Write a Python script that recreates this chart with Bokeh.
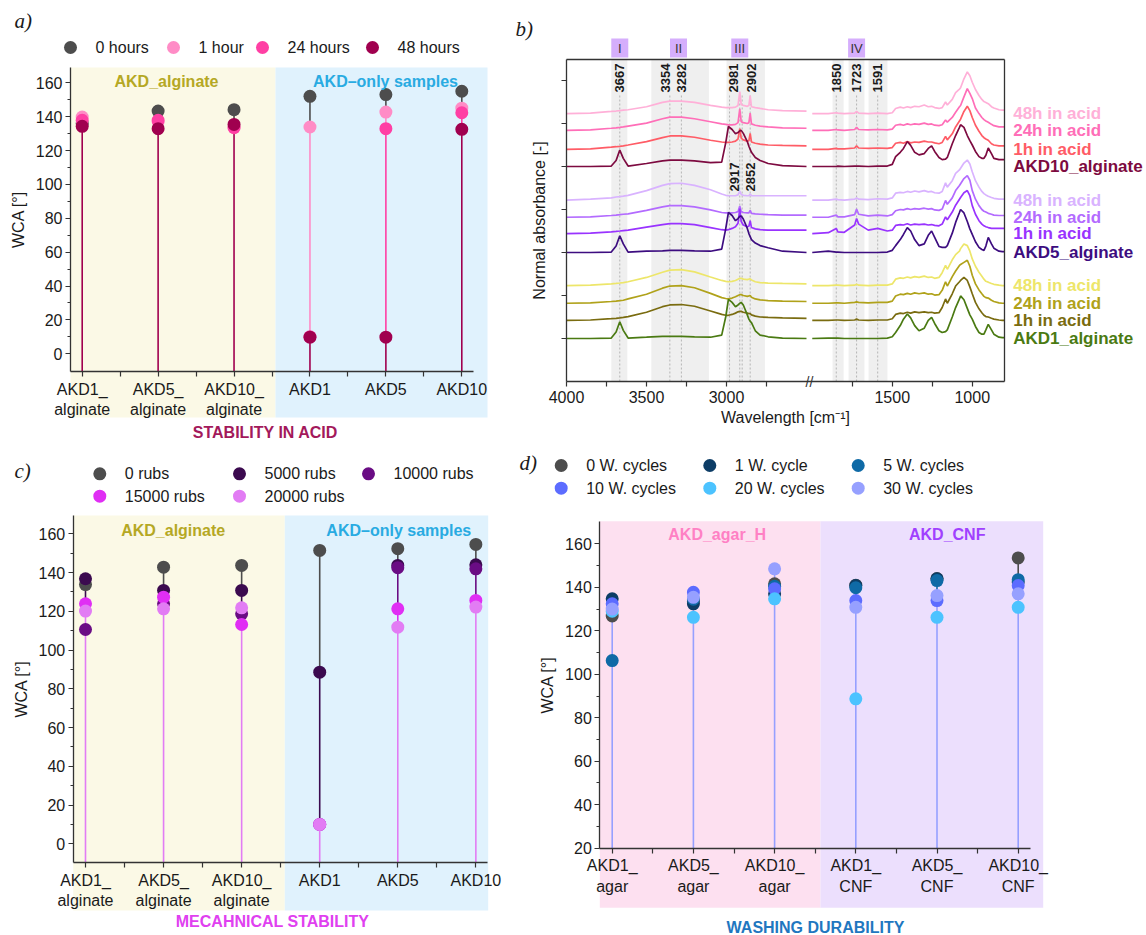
import numpy as np
from bokeh.plotting import figure
from bokeh.models import Range1d, FixedTicker, LinearAxis
from bokeh.layouts import row, column
from bokeh.embed import file_html
from bokeh.resources import INLINE
from bokeh.core.properties import value

SANS = "Liberation Sans"
SERIF = "Liberation Serif"
INK = "#1a1a1a"
AX = "#333333"

# ---------------- panel a: stability in acid ----------------
cats_alg = ["AKD1_\nalginate", "AKD5_\nalginate", "AKD10_\nalginate", "AKD1", "AKD5", "AKD10"]
acid_names = ["0 hours", "1 hour", "24 hours", "48 hours"]
acid_0h = [136.0, 143.3, 144.1, 152.0, 153.0, 155.0]
acid_1h = [139.8, 137.0, 134.0, 133.9, 142.7, 145.0]
acid_24h = [137.8, 137.8, 133.5, 10.0, 132.9, 142.3]
acid_48h = [134.3, 132.9, 135.4, 9.8, 9.8, 132.5]
acid_colors = ["#4d4d4d", "#ff8cc6", "#ff3fa4", "#a0004f"]

# ---------------- panel c: mechanical stability ----------------
rub_names = ["0 rubs", "5000 rubs", "10000 rubs", "15000 rubs", "20000 rubs"]
rubs_0 = [133.8, 142.8, 143.7, 151.4, 152.3, 154.5]
rubs_5000 = [136.8, 130.8, 130.8, 88.6, 143.7, 144.0]
rubs_10000 = [110.6, 123.9, 118.7, 10.0, 142.5, 141.9]
rubs_15000 = [123.9, 127.3, 113.2, 10.0, 121.3, 125.6]
rubs_20000 = [120.1, 121.3, 121.8, 10.0, 111.8, 122.2]
rub_colors = ["#4d4d4d", "#3b0a4f", "#6a0c84", "#e02ef4", "#e27cf4"]

# ---------------- panel d: washing durability ----------------
cats_wash = ["AKD1_\nagar", "AKD5_\nagar", "AKD10_\nagar", "AKD1_\nCNF", "AKD5_\nCNF", "AKD10_\nCNF"]
wash_names = ["0 W. cycles", "1 W. cycle", "5 W. cycles", "10 W. cycles", "20 W. cycles", "30 W. cycles"]
wash_0 = [126.8, 133.5, 141.6, 141.0, 144.0, 153.5]
wash_1 = [134.7, 132.4, 137.0, 140.8, 143.9, 142.5]
wash_5 = [106.3, 134.5, 140.5, 139.8, 143.1, 143.5]
wash_10 = [132.4, 137.7, 139.3, 133.9, 133.9, 140.8]
wash_20 = [129.0, 126.2, 134.7, 88.7, 126.2, 130.8]
wash_30 = [130.0, 135.4, 148.5, 130.8, 136.2, 137.0]
wash_colors = ["#4d4d4d", "#0d3d66", "#0f6aa6", "#5c6cff", "#4cc3ff", "#96a0ff"]

# ---------------- panel b: FTIR spectra ----------------
wn_left = [4000, 3850, 3720, 3690, 3667, 3645, 3615, 3500, 3400, 3354, 3282, 3200, 3100, 3030, 3005,
           2988, 2965, 2944, 2928, 2917, 2908, 2895, 2870, 2860, 2852, 2844, 2820, 2790, 2740, 2650, 2500]
wn_right = [2000, 1900, 1850, 1840, 1800, 1735, 1723, 1710, 1650, 1591, 1531, 1500, 1479, 1450, 1430,
            1406, 1385, 1360, 1333, 1300, 1275, 1254, 1235, 1208, 1188, 1167, 1156, 1125, 1104, 1080,
            1073, 1052, 1031, 1015, 1000, 980, 958, 940, 927, 915, 900, 880, 865, 833, 812, 800]

spec_names = ["48h in acid", "24h in acid", "1h in acid", "AKD10_alginate",
              "48h in acid", "24h in acid", "1h in acid", "AKD5_alginate",
              "48h in acid", "24h in acid", "1h in acid", "AKD1_alginate"]
spec_colors = ["#ffb0d8", "#ff6eb8", "#ff5c66", "#7d0a40",
               "#d9b3ff", "#b36bff", "#9933ff", "#3d0d80",
               "#ede66a", "#b0a21a", "#7a6c10", "#4a7a12"]
spec_offsets = [6.23, 5.84, 5.40, 5.00, 4.22, 3.82, 3.44, 3.00, 2.23, 1.82, 1.42, 1.00]

spec_left = [
    [0, 0.01, 0.05, 0.06, 0.07, 0.08, 0.09, 0.16, 0.26, 0.29, 0.29, 0.26, 0.19, 0.15, 0.14, 0.14, 0.14, 0.15, 0.19, 0.51, 0.21, 0.19, 0.17, 0.19, 0.42, 0.16, 0.14, 0.12, 0.09, 0.07, 0.06],
    [0, 0.01, 0.05, 0.06, 0.07, 0.08, 0.10, 0.17, 0.27, 0.31, 0.31, 0.27, 0.20, 0.15, 0.14, 0.13, 0.13, 0.14, 0.18, 0.50, 0.20, 0.18, 0.16, 0.18, 0.40, 0.15, 0.12, 0.10, 0.08, 0.06, 0.05],
    [0, 0.01, 0.05, 0.06, 0.07, 0.08, 0.10, 0.18, 0.27, 0.31, 0.31, 0.28, 0.21, 0.17, 0.16, 0.16, 0.17, 0.19, 0.24, 0.48, 0.26, 0.22, 0.19, 0.20, 0.37, 0.17, 0.14, 0.12, 0.10, 0.09, 0.08],
    [0, 0, 0.01, 0.14, 0.38, 0.19, 0.01, 0.07, 0.13, 0.15, 0.15, 0.13, 0.09, 0.10, 0.55, 0.93, 0.86, 0.76, 0.79, 0.83, 0.84, 0.77, 0.58, 0.47, 0.40, 0.33, 0.21, 0.14, 0.07, 0.02, 0],
    [0, 0.02, 0.05, 0.07, 0.08, 0.09, 0.11, 0.22, 0.34, 0.38, 0.39, 0.34, 0.24, 0.14, 0.11, 0.10, 0.10, 0.10, 0.12, 0.21, 0.13, 0.11, 0.10, 0.10, 0.14, 0.10, 0.10, 0.10, 0.10, 0.10, 0.10],
    [0, 0.01, 0.04, 0.05, 0.06, 0.07, 0.08, 0.16, 0.24, 0.27, 0.27, 0.24, 0.17, 0.11, 0.10, 0.10, 0.10, 0.11, 0.13, 0.26, 0.13, 0.11, 0.10, 0.10, 0.16, 0.09, 0.08, 0.07, 0.06, 0.05, 0.05],
    [0, 0.01, 0.04, 0.05, 0.06, 0.07, 0.08, 0.15, 0.21, 0.23, 0.23, 0.21, 0.14, 0.09, 0.08, 0.09, 0.12, 0.16, 0.24, 0.58, 0.28, 0.20, 0.16, 0.17, 0.30, 0.14, 0.11, 0.09, 0.08, 0.08, 0.08],
    [0, 0, 0.01, 0.15, 0.39, 0.20, 0.01, 0.03, 0.04, 0.05, 0.05, 0.04, 0.03, 0.08, 0.55, 0.93, 0.86, 0.74, 0.79, 0.84, 0.85, 0.78, 0.56, 0.44, 0.37, 0.30, 0.22, 0.16, 0.11, 0.03, 0],
    [0, 0.01, 0.04, 0.05, 0.06, 0.07, 0.09, 0.19, 0.31, 0.36, 0.37, 0.32, 0.20, 0.12, 0.10, 0.09, 0.10, 0.12, 0.15, 0.17, 0.17, 0.15, 0.14, 0.15, 0.16, 0.13, 0.09, 0.07, 0.06, 0.05, 0.04],
    [0, 0.01, 0.04, 0.05, 0.06, 0.07, 0.10, 0.21, 0.35, 0.40, 0.41, 0.36, 0.23, 0.13, 0.11, 0.10, 0.12, 0.15, 0.18, 0.20, 0.20, 0.18, 0.16, 0.17, 0.18, 0.14, 0.10, 0.08, 0.06, 0.05, 0.04],
    [0, 0.01, 0.04, 0.05, 0.06, 0.07, 0.09, 0.19, 0.32, 0.36, 0.37, 0.33, 0.22, 0.14, 0.12, 0.12, 0.14, 0.17, 0.20, 0.21, 0.21, 0.19, 0.17, 0.16, 0.16, 0.13, 0.10, 0.08, 0.07, 0.06, 0.05],
    [0, 0, 0.01, 0.15, 0.39, 0.19, 0.01, 0.03, 0.05, 0.05, 0.05, 0.04, 0.03, 0.08, 0.50, 0.91, 0.84, 0.74, 0.78, 0.82, 0.84, 0.78, 0.55, 0.45, 0.40, 0.37, 0.18, 0.08, 0.04, 0.01, 0],
]
spec_right = [
    [0, 0, 0.02, 0.01, 0, 0.01, 0.05, 0.01, 0, 0.01, 0, 0.02, 0.12, 0.15, 0.13, 0.16, 0.14, 0.17, 0.16, 0.20, 0.16, 0.17, 0.14, 0.12, 0.14, 0.27, 0.20, 0.33, 0.49, 0.57, 0.60, 0.81, 0.97, 0.88, 0.73, 0.56, 0.42, 0.33, 0.28, 0.26, 0.23, 0.16, 0.13, 0.09, 0.08, 0.08],
    [0, 0, 0.02, 0.01, 0, 0.02, 0.07, 0.02, 0.01, 0.02, 0.01, 0.03, 0.12, 0.14, 0.12, 0.15, 0.13, 0.15, 0.14, 0.17, 0.14, 0.15, 0.12, 0.11, 0.13, 0.24, 0.19, 0.30, 0.42, 0.55, 0.58, 0.78, 0.97, 0.86, 0.74, 0.52, 0.39, 0.30, 0.25, 0.22, 0.19, 0.14, 0.11, 0.08, 0.08, 0.08],
    [0, 0, 0.02, 0.01, 0.01, 0.03, 0.08, 0.03, 0.02, 0.03, 0.02, 0.04, 0.14, 0.16, 0.14, 0.18, 0.15, 0.17, 0.16, 0.19, 0.17, 0.17, 0.15, 0.13, 0.16, 0.30, 0.22, 0.36, 0.52, 0.66, 0.70, 0.88, 1.00, 0.90, 0.74, 0.56, 0.42, 0.32, 0.27, 0.24, 0.21, 0.13, 0.10, 0.08, 0.08, 0.08],
    [0, 0, 0, 0.01, 0, 0.01, 0.01, 0.01, 0, 0.01, 0.01, 0.05, 0.23, 0.33, 0.42, 0.58, 0.49, 0.33, 0.27, 0.30, 0.42, 0.48, 0.35, 0.21, 0.16, 0.17, 0.21, 0.53, 0.72, 0.91, 0.97, 0.91, 0.72, 0.60, 0.50, 0.35, 0.23, 0.19, 0.19, 0.26, 0.43, 0.30, 0.19, 0.16, 0.16, 0.16],
    [0, 0, 0.02, 0.01, 0, 0.02, 0.05, 0.02, 0.01, 0.03, 0.02, 0.05, 0.16, 0.18, 0.17, 0.20, 0.18, 0.21, 0.19, 0.22, 0.19, 0.20, 0.17, 0.16, 0.20, 0.40, 0.30, 0.45, 0.62, 0.70, 0.74, 0.86, 0.93, 0.84, 0.66, 0.45, 0.30, 0.20, 0.15, 0.12, 0.09, 0.06, 0.04, 0.02, 0.02, 0.02],
    [0, 0, 0.05, 0.01, 0.01, 0.06, 0.19, 0.07, 0.03, 0.05, 0.03, 0.06, 0.15, 0.18, 0.17, 0.20, 0.18, 0.20, 0.19, 0.21, 0.19, 0.20, 0.17, 0.16, 0.19, 0.39, 0.30, 0.45, 0.62, 0.74, 0.78, 0.90, 0.97, 0.86, 0.62, 0.42, 0.27, 0.18, 0.14, 0.12, 0.09, 0.07, 0.05, 0.04, 0.04, 0.04],
    [0, 0.02, 0.12, 0.04, 0.03, 0.20, 0.35, 0.22, 0.08, 0.12, 0.06, 0.08, 0.19, 0.21, 0.20, 0.23, 0.20, 0.22, 0.21, 0.22, 0.20, 0.21, 0.19, 0.18, 0.22, 0.39, 0.32, 0.50, 0.66, 0.80, 0.84, 0.95, 1.00, 0.88, 0.65, 0.45, 0.30, 0.22, 0.18, 0.16, 0.14, 0.12, 0.12, 0.12, 0.12, 0.12],
    [0, 0.03, 0.01, 0.01, 0, 0, 0, 0, 0, 0, 0.01, 0.05, 0.16, 0.30, 0.42, 0.58, 0.50, 0.30, 0.16, 0.20, 0.40, 0.50, 0.35, 0.14, 0.12, 0.12, 0.16, 0.45, 0.70, 0.93, 1.00, 0.92, 0.72, 0.55, 0.42, 0.25, 0.12, 0.07, 0.05, 0.15, 0.35, 0.20, 0.10, 0.03, 0.02, 0.02],
    [0, 0, 0.01, 0.01, 0, 0.01, 0.03, 0.01, 0, 0.01, 0.01, 0.04, 0.15, 0.18, 0.17, 0.20, 0.18, 0.21, 0.19, 0.22, 0.19, 0.20, 0.17, 0.19, 0.30, 0.47, 0.38, 0.60, 0.72, 0.80, 0.86, 0.97, 0.93, 0.80, 0.62, 0.45, 0.31, 0.22, 0.15, 0.10, 0.08, 0.05, 0.03, 0.01, 0, 0],
    [0, 0, 0.01, 0.01, 0, 0.02, 0.03, 0.02, 0.01, 0.02, 0.02, 0.05, 0.17, 0.21, 0.20, 0.23, 0.21, 0.24, 0.22, 0.24, 0.21, 0.22, 0.19, 0.20, 0.30, 0.50, 0.40, 0.62, 0.75, 0.88, 0.90, 0.95, 1.00, 0.86, 0.65, 0.45, 0.31, 0.22, 0.16, 0.13, 0.12, 0.07, 0.04, 0.01, 0, 0],
    [0, 0, 0.01, 0.01, 0, 0.01, 0.03, 0.01, 0, 0.01, 0.01, 0.04, 0.14, 0.17, 0.16, 0.19, 0.17, 0.20, 0.18, 0.20, 0.18, 0.19, 0.17, 0.18, 0.30, 0.50, 0.40, 0.62, 0.80, 0.90, 0.93, 1.00, 0.93, 0.78, 0.62, 0.42, 0.27, 0.18, 0.12, 0.09, 0.08, 0.05, 0.03, 0.01, 0, 0],
    [0, 0.01, 0.01, 0.01, 0, 0, 0, 0, 0, 0, 0.01, 0.04, 0.14, 0.30, 0.45, 0.57, 0.48, 0.30, 0.18, 0.24, 0.42, 0.49, 0.35, 0.18, 0.14, 0.16, 0.20, 0.50, 0.72, 0.92, 0.99, 0.90, 0.70, 0.55, 0.45, 0.28, 0.14, 0.10, 0.10, 0.20, 0.33, 0.20, 0.10, 0.03, 0.02, 0.02],
]
peak_top = [3667, 3354, 3282, 2981, 2902, 1850, 1723, 1591]
peak_low = [2917, 2852]
regions = [(3720, 3620), (3470, 3110), (3000, 2760), (1873, 1804), (1773, 1674), (1648, 1530)]
region_tags = ["I", "II", "III", "IV"]
region_tag_wn = [3667, 3300, 2917, 1723]


# ---------------- helpers ----------------
def lin(v1, p1, v2, p2):
    k = (v2 - v1) / (p2 - p1)
    return lambda px: v1 + (px - p1) * k


def base_fig(W, H, xr, yr):
    p = figure(width=W, height=H, x_range=Range1d(*xr), y_range=Range1d(*yr),
               output_backend="svg", toolbar_location=None, min_border=0)
    p.min_border_left = p.min_border_right = p.min_border_top = p.min_border_bottom = 0
    p.outline_line_color = None
    p.xgrid.visible = False
    p.ygrid.visible = False
    p.background_fill_color = "white"
    p.border_fill_color = "white"
    return p


def style_axis(ax, minor_out=3):
    ax.axis_line_color = AX
    ax.axis_line_width = 1.3
    ax.major_tick_line_color = AX
    ax.minor_tick_line_color = AX
    ax.major_tick_line_width = 1.2
    ax.minor_tick_line_width = 1.2
    ax.major_tick_in = 0
    ax.minor_tick_in = 0
    ax.major_tick_out = 5
    ax.minor_tick_out = minor_out
    ax.major_label_text_font = SANS
    ax.major_label_text_font_size = "16px"
    ax.major_label_text_color = INK
    ax.axis_label_text_font = SANS
    ax.axis_label_text_font_size = "16px"
    ax.axis_label_text_font_style = "normal"
    ax.axis_label_text_color = INK


def txt(p, xs, ys, ss, color=INK, size="16px", style="normal", font=SANS,
        align="center", baseline="middle", angle=0, x_offset=0):
    p.text(x=xs, y=ys, text=ss, text_color=color, text_font=value(font),
           text_font_size=size, text_font_style=style, text_align=align,
           text_baseline=baseline, angle=angle, x_offset=x_offset)


def manual_legend(p, fx, fy, names, colors, slots):
    xs = [fx(cx) for cx, cy in slots]
    ys = [fy(cy) for cx, cy in slots]
    p.scatter(xs, ys, size=13, color=colors, line_color=None)
    txt(p, [fx(cx + 25) for cx, cy in slots], ys, names, align="left")


def lollipop(W, H, fx, fy, cats, series, colors, names, L):
    p = base_fig(W, H, (fx(0), fx(W)), (fy(H), fy(0)))
    xs = list(range(1, len(cats) + 1))
    x_axis_val = fy(L["xaxis_px"])
    y_top = fy(L["ytop_px"])
    y_axis_x = fx(L["yaxis_px"])
    split = fx(L["split_px"])
    p.quad(left=[y_axis_x, split], right=[split, fx(L["bgright_px"])],
           bottom=fy(L["bgbottom_px"]), top=y_top,
           fill_color=L["bg_colors"], line_color=None)
    # stems: each series is drawn over the earlier ones, so only the part of a
    # stem above every later stem stays visible
    for k, (vals, col) in enumerate(zip(series, colors)):
        sx, s0, s1 = [], [], []
        for j, v in enumerate(vals):
            low = max([x_axis_val] + [series[m][j] for m in range(k + 1, len(series))])
            if v > low:
                sx.append(xs[j]); s0.append(low); s1.append(v)
        p.segment(x0=sx, y0=s0, x1=sx, y1=s1, line_color=col, line_width=1.6)
    for vals, col in zip(series, colors):
        p.scatter(xs, vals, size=13, color=col, line_color=None)
    # region titles
    txt(p, [fx(v) for v in L["region_x_px"]], [fy(L["region_y_px"])] * 2,
        L["region_names"], color=L["region_colors"], style="bold")
    # panel letter
    txt(p, [fx(L["letter_px"][0])], [fy(L["letter_px"][1])], [L["letter"]],
        size="21px", style="italic", font=SERIF, align="left")
    # bottom title
    txt(p, [fx(L["title_px"][0])], [fy(L["title_px"][1])], [L["title"]],
        color=L["title_color"], style="bold")
    manual_legend(p, fx, fy, names, colors, L["legend_slots"])

    xa = p.xaxis[0]
    style_axis(xa, minor_out=5)
    xa.fixed_location = x_axis_val
    xa.bounds = (y_axis_x, fx(L["axisright_px"]))
    xa.ticker = FixedTicker(ticks=xs, minor_ticks=[i + 0.5 for i in xs[:-1]])
    xa.major_label_overrides = {i: c for i, c in zip(xs, cats)}
    xa.major_label_standoff = 4

    ya = p.yaxis[0]
    style_axis(ya)
    ya.fixed_location = y_axis_x
    ya.bounds = (x_axis_val, y_top)
    ya.ticker = FixedTicker(ticks=L["yticks"], minor_ticks=L["yminor"])
    ya.major_label_standoff = 3
    ya.axis_label = "WCA [°]"
    ya.axis_label_standoff = 6
    return p


W_L, W_R, H_TOP, H_BOT = 510, 636, 445, 490

# ---------------- panel a (figure origin at 0, 0) ----------------
fxa = lin(1, 81.7, 6, 81.7 + 5 * 75.92)
fya = lin(0, 353.3, 160, 353.3 - 160 * 1.694)
pa = lollipop(W_L, H_TOP, fxa, fya, cats_alg, [acid_0h, acid_1h, acid_24h, acid_48h],
              acid_colors, acid_names, dict(
                  xaxis_px=371, ytop_px=67, yaxis_px=70, split_px=275, bgright_px=487,
                  bgbottom_px=417, axisright_px=473, bg_colors=["#fbf9e6", "#e0f2fd"],
                  region_x_px=[166, 385], region_y_px=80.7,
                  region_names=["AKD_alginate", "AKD\u2013only samples"],
                  region_colors=["#b5a824", "#29abe2"],
                  letter="a)", letter_px=(14, 20),
                  title="STABILITY IN ACID", title_px=(265, 432), title_color="#a3195b",
                  legend_slots=[(70, 47), (173, 47), (262, 47), (372, 47)],
                  yticks=list(range(0, 161, 20)), yminor=list(range(10, 160, 20))))

# ---------------- panel c (figure origin at 0, 445) ----------------
fxc = lin(1, 85, 6, 85 + 5 * 78.07)
fyc = lin(0, 398.3, 160, 398.3 - 310)
pc = lollipop(W_L, H_BOT, fxc, fyc, cats_alg, [rubs_0, rubs_5000, rubs_10000, rubs_15000, rubs_20000],
              rub_colors, rub_names, dict(
                  xaxis_px=417.3, ytop_px=70, yaxis_px=72.7, split_px=284.3, bgright_px=487.7,
                  bgbottom_px=465, axisright_px=486.7, bg_colors=["#fbf9e6", "#e0f2fd"],
                  region_x_px=[172.7, 398.3], region_y_px=84.5,
                  region_names=["AKD_alginate", "AKD\u2013only samples"],
                  region_colors=["#b5a824", "#29abe2"],
                  letter="c)", letter_px=(14, 25),
                  title="MECAHNICAL STABILITY", title_px=(272, 476), title_color="#e040f0",
                  legend_slots=[(99.3, 28.3), (239, 28.3), (368, 28.3), (99.3, 50.7), (239, 50.7)],
                  yticks=list(range(0, 161, 20)), yminor=list(range(10, 160, 20))))

# ---------------- panel d (figure origin at 510, 445) ----------------
fxd = lin(1, 101.7, 6, 101.7 + 5 * 81.2)
fyd = lin(20, 402.7, 160, 402.7 - 140 * 2.174)
pd_ = lollipop(W_R, H_BOT, fxd, fyd, cats_wash, [wash_0, wash_1, wash_5, wash_10, wash_20, wash_30],
               wash_colors, wash_names, dict(
                   xaxis_px=402.7, ytop_px=75.7, yaxis_px=89.3, split_px=310, bgright_px=532.7,
                   bgbottom_px=462.3, axisright_px=520, bg_colors=["#fde0f0", "#ecdffd"],
                   region_x_px=[206.7, 436.7], region_y_px=89,
                   region_names=["AKD_agar_H", "AKD_CNF"],
                   region_colors=["#ff80c4", "#a040ff"],
                   letter="d)", letter_px=(9, 17),
                   title="WASHING DURABILITY", title_px=(305, 482), title_color="#1f77c0",
                   legend_slots=[(50.7, 20), (199.3, 20), (347.7, 20),
                                 (50.7, 42.7), (199.3, 42.7), (347.7, 42.7)],
                   yticks=list(range(20, 161, 20)), yminor=list(range(30, 160, 20))))

# ---------------- panel b (figure origin at 510, 0) ----------------
SHIFT = 464          # axis break: 2500 -> 2000 cm-1 squeezed into a narrow gap
U_END = 800 + SHIFT  # right edge of the frame
Y_FRAME = 7.5


def to_u(w):
    return w if w >= 2250 else w + SHIFT


fu = lin(4000, 56, 3000, 56 + 160)
fyb = lin(0, 381, 1, 338)
pb = base_fig(W_R, H_TOP, (fu(0), fu(W_R)), (fyb(H_TOP), fyb(0)))

pb.quad(left=[to_u(a) for a, b in regions], right=[to_u(b) for a, b in regions],
        bottom=0, top=Y_FRAME, fill_color="#efefef", line_color=None)
all_peaks = peak_top + peak_low
pb.segment(x0=[to_u(w) for w in all_peaks], y0=0, x1=[to_u(w) for w in all_peaks],
           y1=fyb(95), line_color="#b5b5b5", line_width=1, line_dash="2 2")

for i in range(len(spec_names)):
    off = spec_offsets[i]
    pb.line([to_u(w) for w in wn_left], [off + v for v in spec_left[i]],
            line_color=spec_colors[i], line_width=1.7)
    pb.line([to_u(w) for w in wn_right], [off + v for v in spec_right[i]],
            line_color=spec_colors[i], line_width=1.7)

# peak labels
txt(pb, [to_u(w) for w in peak_top], [fyb(63)] * len(peak_top), [str(w) for w in peak_top],
    size="13px", style="bold", align="right", angle=np.pi / 2,
    x_offset=[0, -4, 0, 4, 9, 0, 0, 0])
txt(pb, [to_u(w) for w in peak_low], [fyb(162)] * len(peak_low), [str(w) for w in peak_low],
    size="13px", style="bold", align="right", angle=np.pi / 2, x_offset=[-5, 0])

# region tags
half = 8.5 / 0.16
pb.quad(left=[to_u(w) + half for w in region_tag_wn], right=[to_u(w) - half for w in region_tag_wn],
        bottom=fyb(57), top=fyb(38), fill_color="#d5aefc", line_color=None)
txt(pb, [to_u(w) for w in region_tag_wn], [fyb(47.5)] * 4, region_tags, color="#333333", size="13px")

# curve labels
txt(pb, [fu(502.7)] * len(spec_names), spec_offsets, spec_names, color=spec_colors,
    size="17px", style="bold", align="left")
# axis break mark
txt(pb, [(2500 + to_u(2000)) / 2], [0], ["//"], size="14px", color=AX)
# panel letter
txt(pb, [fu(5)], [fyb(28)], ["b)"], size="21px", style="italic", font=SERIF, align="left")

xb = pb.xaxis[0]
style_axis(xb, minor_out=5)
xb.fixed_location = 0
xb.bounds = (U_END, 4000)
xb.ticker = FixedTicker(ticks=[4000, 3500, 3000, to_u(1500), to_u(1000)],
                        minor_ticks=[3750, 3250, 2750, to_u(1750), to_u(1250)])
xb.major_label_overrides = {to_u(1500): "1500", to_u(1000): "1000"}
xb.major_label_standoff = 4
xb.axis_label = "Wavelength [cm\u207b\u00b9]"
xb.axis_label_standoff = 3

yb = pb.yaxis[0]
style_axis(yb, minor_out=5)
yb.fixed_location = 4000
yb.bounds = (0, Y_FRAME)
yb.ticker = FixedTicker(ticks=[], minor_ticks=[1, 2, 3, 4, 5, 6, 7])
yb.axis_label = "Normal absorbance [-]"
yb.axis_label_standoff = 14

top_ax = LinearAxis(fixed_location=Y_FRAME, bounds=(U_END, 4000), ticker=FixedTicker(ticks=[]))
right_ax = LinearAxis(fixed_location=U_END, bounds=(0, Y_FRAME), ticker=FixedTicker(ticks=[]))
for ax in (top_ax, right_ax):
    style_axis(ax)
    ax.major_tick_out = 0
    ax.minor_tick_out = 0
pb.add_layout(top_ax, "above")
pb.add_layout(right_ax, "right")

layout = column(row(pa, pb), row(pc, pd_))
open("out.html", "w").write(file_html(layout, INLINE, "WCA and FTIR"))
